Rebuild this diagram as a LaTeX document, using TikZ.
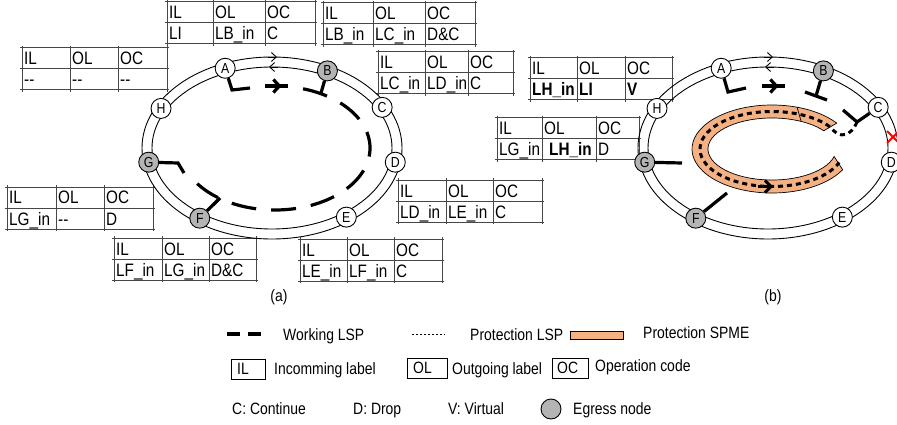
\documentclass[tikz,border=0pt]{standalone}
\usepackage{fontspec}
\setmainfont{Liberation Sans}[FakeStretch=0.85]
\usetikzlibrary{arrows.meta,decorations.markings}
\definecolor{egray}{RGB}{180,180,180}
\definecolor{tabgray}{RGB}{70,70,70}
\definecolor{spme}{RGB}{244,177,131}
\newcommand\mytabfont{\fontsize{18}{20}\selectfont}
\newcommand\mylegfont{\fontsize{16.4}{18}\selectfont}
\newcommand\mynodefont{\fontsize{14.5}{15}\selectfont}
\tikzset{
  ringline/.style={line width=0.9},
  rnode/.style={circle, draw, line width=0.9, fill=white, minimum size=20, inner sep=0, font=\mynodefont},
  egress/.style={rnode, fill=egray},
  lsp/.style={line width=3.2},
  wdash/.style={lsp, dash pattern=on 25 off 15},
  prot/.style={line width=3, dash pattern=on 5 off 4},
  tabline/.style={draw=tabgray, line width=1},
  tabtxt/.style={anchor=base west, inner sep=0, font=\mytabfont},
  legtxt/.style={anchor=base west, inner sep=0, font=\mylegfont},
  barb/.style={-{Straight Barb[length=5pt,width=9pt]}},
}
\newcommand\mytab[9]{%
  \draw[tabline] ({#2-2},#3) -- ({#2+#4+#5+#6+2},#3);
  \draw[tabline] ({#2-2},{#3+21}) -- ({#2+#4+#5+#6+2},{#3+21});
  \draw[tabline] ({#2-2},{#3+42}) -- ({#2+#4+#5+#6+2},{#3+42});
  \draw[tabline] (#2,{#3-2}) -- (#2,{#3+44});
  \draw[tabline] ({#2+#4},{#3-2}) -- ({#2+#4},{#3+44});
  \draw[tabline] ({#2+#4+#5},{#3-2}) -- ({#2+#4+#5},{#3+44});
  \draw[tabline] ({#2+#4+#5+#6},{#3-2}) -- ({#2+#4+#5+#6},{#3+44});
  \node[tabtxt] (#1h1) at ({#2+2},{#3+17}) {IL};
  \node[tabtxt] (#1h2) at ({#2+#4+2},{#3+17}) {OL};
  \node[tabtxt] (#1h3) at ({#2+#4+#5+2},{#3+17}) {OC};
  \node[tabtxt] (#1v1) at ({#2+2},{#3+38}) {#7};
  \node[tabtxt] (#1v2) at ({#2+#4+2},{#3+38}) {#8};
  \node[tabtxt] (#1v3) at ({#2+#4+#5+2},{#3+38}) {#9};
}
\newcommand\myring[2]{%
  \draw[ringline] (#2,148) ellipse [x radius=130, y radius=91];
  \draw[ringline] (#2,148) ellipse [x radius=120, y radius=81];
  \draw[ringline,barb] ({#2-4},57) -- ({#2+5},57);
  \draw[ringline,barb] ({#2+6},67) -- ({#2-3},67);
  \node[rnode]  (#1A) at ({#2+125*cos(112)},{148-86*sin(112)}) {A};
  \node[egress] (#1B) at ({#2+125*cos(63.7)},{148-86*sin(63.7)}) {B};
  \node[rnode]  (#1C) at ({#2+125*cos(28.2)},{148-86*sin(28.2)}) {C};
  \node[rnode]  (#1D) at ({#2+125*cos(-9.5)},{148-86*sin(-9.5)}) {D};
  \node[rnode]  (#1E) at ({#2+125*cos(-53.5)},{148-86*sin(-53.5)}) {E};
  \node[egress] (#1F) at ({#2+125*cos(-125.3)},{148-86*sin(-125.3)}) {F};
  \node[egress] (#1G) at ({#2+125*cos(-170.5)},{148-86*sin(-170.5)}) {G};
  \node[rnode]  (#1H) at ({#2+125*cos(152.6)},{148-86*sin(152.6)}) {H};
}
\begin{document}
\begin{tikzpicture}[x=1pt,y=-1pt]
\useasboundingbox (0,0) rectangle (897,425);
\clip (0,0) rectangle (897,425);

% ---------- tables ----------
\mytab{tA}{22}{48}{48}{48}{49}{-{}-}{-{}-}{-{}-}
\mytab{tB}{167}{2}{46}{52}{50}{LI}{LB\_in}{C}
\mytab{tC}{323}{3}{50}{52}{50}{LB\_in}{LC\_in}{D\&C}
\mytab{tD}{378}{52}{47}{43}{45}{LC\_in}{LD\_in}{C}
\mytab{tE}{530}{58}{47}{48}{47}{\bfseries LH\_in}{\bfseries LI}{\bfseries V}
\mytab{tF}{497}{118}{45}{54}{43}{LG\_in}{\hspace{5pt}\bfseries LH\_in}{D}
\mytab{tG}{7}{187}{49}{48}{49}{LG\_in}{-{}-}{D}
\mytab{tH}{114}{238}{48}{47}{47}{LF\_in}{LG\_in}{D\&C}
\mytab{tI}{398}{180}{48}{47}{49}{LD\_in}{LE\_in}{C}
\mytab{tJ}{300}{239}{47}{47}{48}{LE\_in}{LF\_in}{C}

% ---------- ring (a) ----------
\myring{a}{272}
\draw[lsp] (aA) -- (232,90) -- (250,88);
\draw[lsp, decoration={markings, mark=at position 0.72 with {\arrow{Straight Barb[length=6pt,width=13pt]}}}, postaction=decorate] (265,86) -- (288,86);
\draw[wdash] ({275+95*cos(-72.8)},{148+62*sin(-72.8)}) arc[start angle=-72.8, end angle=146.8, x radius=95, y radius=62];
\draw[lsp] (184,173) -- (178,163) -- (aG);
\draw[lsp] (aB) -- (321,93);
\draw[lsp] (aF) -- (220,198);

% ---------- ring (b) ----------
\myring{b}{768}
\draw[line width=0.7, fill=spme]
  ({772+80*cos(-36)},{149+44*sin(-36)}) arc[start angle=-36, end angle=-332, x radius=80, y radius=44]
  -- ({772+64*cos(-346)},{149+31*sin(-346)}) arc[start angle=-346, end angle=-36, x radius=64, y radius=31]
  -- cycle;
\draw[line width=0.7] (797,107) -- (801,121);
\draw[prot] (857,122) .. controls (851,136) and (840,140) .. ({772+72*cos(-36)},{149+37.5*sin(-36)})
  arc[start angle=-36, end angle=-339, x radius=72, y radius=37.5];
\draw[line width=3, -{Straight Barb[length=6pt,width=12pt]}] (758,186.5) -- (773,186.5);
\draw[lsp] (bA) -- (728,92) -- (746,88);
\draw[lsp, decoration={markings, mark=at position 0.72 with {\arrow{Straight Barb[length=6pt,width=13pt]}}}, postaction=decorate] (762,86) -- (785,86);
\draw[lsp] (805,92) -- (827,100);
\draw[lsp] (bB) -- (816,96);
\draw[lsp] (843,110) -- (857,122) -- (bC);
\draw[lsp] (bG) -- (682,163);
\draw[lsp] (bF) -- (727,193);
\draw[red, line width=2] (887,131) -- (899,143) (887,143) -- (899,131);

% ---------- captions ----------
\node[font=\mylegfont, inner sep=0] (capa) at (279,297) {(a)};
\node[font=\mylegfont, inner sep=0] (capb) at (773,297) {(b)};

% ---------- legend ----------
\draw[lsp, dash pattern=on 13 off 8] (227,334) -- (262,334);
\node[legtxt] (lgW) at (283,340) {Working LSP};
\draw[line width=1.5, dash pattern=on 2 off 2] (412,334.5) -- (445,334.5);
\node[legtxt] (lgP) at (470,340.5) {Protection LSP};
\draw[line width=0.8, fill=spme] (570,331) rectangle (623,339);
\node[legtxt] (lgS) at (643,338.5) {Protection SPME};
\draw[line width=0.8] (231,359) rectangle (265,379);
\node[legtxt] (lgIL) at (237,374) {IL};
\node[legtxt] (lgILt) at (274,374) {Incomming label};
\draw[line width=0.8] (407,358) rectangle (447,378);
\node[legtxt] (lgOL) at (413,373) {OL};
\node[legtxt] (lgOLt) at (452,374) {Outgoing label};
\draw[line width=0.8] (552,358) rectangle (588,378);
\node[legtxt] (lgOC) at (557,373) {OC};
\node[legtxt] (lgOCt) at (595,371.5) {Operation code};
\node[legtxt] (lgC) at (232,414) {C: Continue};
\node[legtxt] (lgD) at (353,414) {D: Drop};
\node[legtxt] (lgV) at (448,414) {V: Virtual};
\node[circle, draw, line width=0.9, fill=egray, minimum size=20, inner sep=0] (lgE) at (551,409) {};
\node[legtxt] (lgEt) at (573,414) {Egress node};
\end{tikzpicture}
\end{document}
